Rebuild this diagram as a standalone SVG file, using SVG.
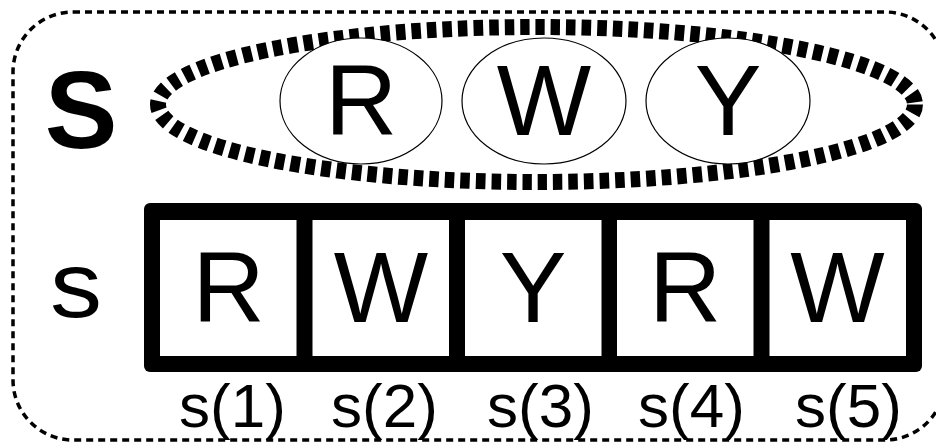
<svg xmlns="http://www.w3.org/2000/svg" width="936" height="445" viewBox="0 0 936 445">
<style>
.t{font-family:"Liberation Sans",Arial,sans-serif;fill:#000;text-anchor:middle}
.big{font-size:100px}
.lbl{font-size:62px}
.cell{fill:#fff}
.el{fill:#fff;stroke:#000;stroke-width:1.2}
</style>
<rect width="936" height="445" fill="#fff"/>
<g id="outer">
<rect x="13" y="12" width="932" height="428" rx="60" ry="60" fill="none" stroke="#000" stroke-width="3.5" stroke-dasharray="7 5"/>
</g>
<g id="set-S">
<text class="t" x="81" y="148" style="font-size:109px;font-weight:bold">S</text>
<ellipse cx="536.5" cy="104.5" rx="378.5" ry="77.5" fill="none" stroke="#000" stroke-width="16" stroke-dasharray="9.5 6"/>
</g>
<g id="S-R"><ellipse class="el" cx="361" cy="101" rx="81" ry="63"/><text class="t big" x="361" y="135">R</text></g>
<g id="S-W"><ellipse class="el" cx="544" cy="101" rx="82" ry="63"/><text class="t big" x="544" y="135">W</text></g>
<g id="S-Y"><ellipse class="el" cx="728" cy="101" rx="82" ry="63"/><text class="t big" x="728" y="135">Y</text></g>
<g id="seq-s">
<text class="t" transform="translate(76,317) scale(1.12,1)" x="0" y="0" style="font-size:93px">s</text>
<rect x="144" y="203" width="778" height="169" rx="6" ry="6" fill="#000"/>
</g>
<g id="s1"><rect class="cell" x="160" y="220" width="136.5" height="136"/><text class="t big" x="228.5" y="322">R</text><text class="t lbl" x="232.5" y="427">s(1)</text></g>
<g id="s2"><rect class="cell" x="312.5" y="220" width="136.5" height="136"/><text class="t big" x="381" y="322">W</text><text class="t lbl" x="384.5" y="427">s(2)</text></g>
<g id="s3"><rect class="cell" x="465" y="220" width="136.5" height="136"/><text class="t big" x="533" y="322">Y</text><text class="t lbl" x="540.5" y="427">s(3)</text></g>
<g id="s4"><rect class="cell" x="617" y="220" width="136.5" height="136"/><text class="t big" x="685" y="322">R</text><text class="t lbl" x="691.5" y="427">s(4)</text></g>
<g id="s5"><rect class="cell" x="769.5" y="220" width="136.5" height="136"/><text class="t big" x="837.5" y="322">W</text><text class="t lbl" x="848.5" y="427">s(5)</text></g>
</svg>
